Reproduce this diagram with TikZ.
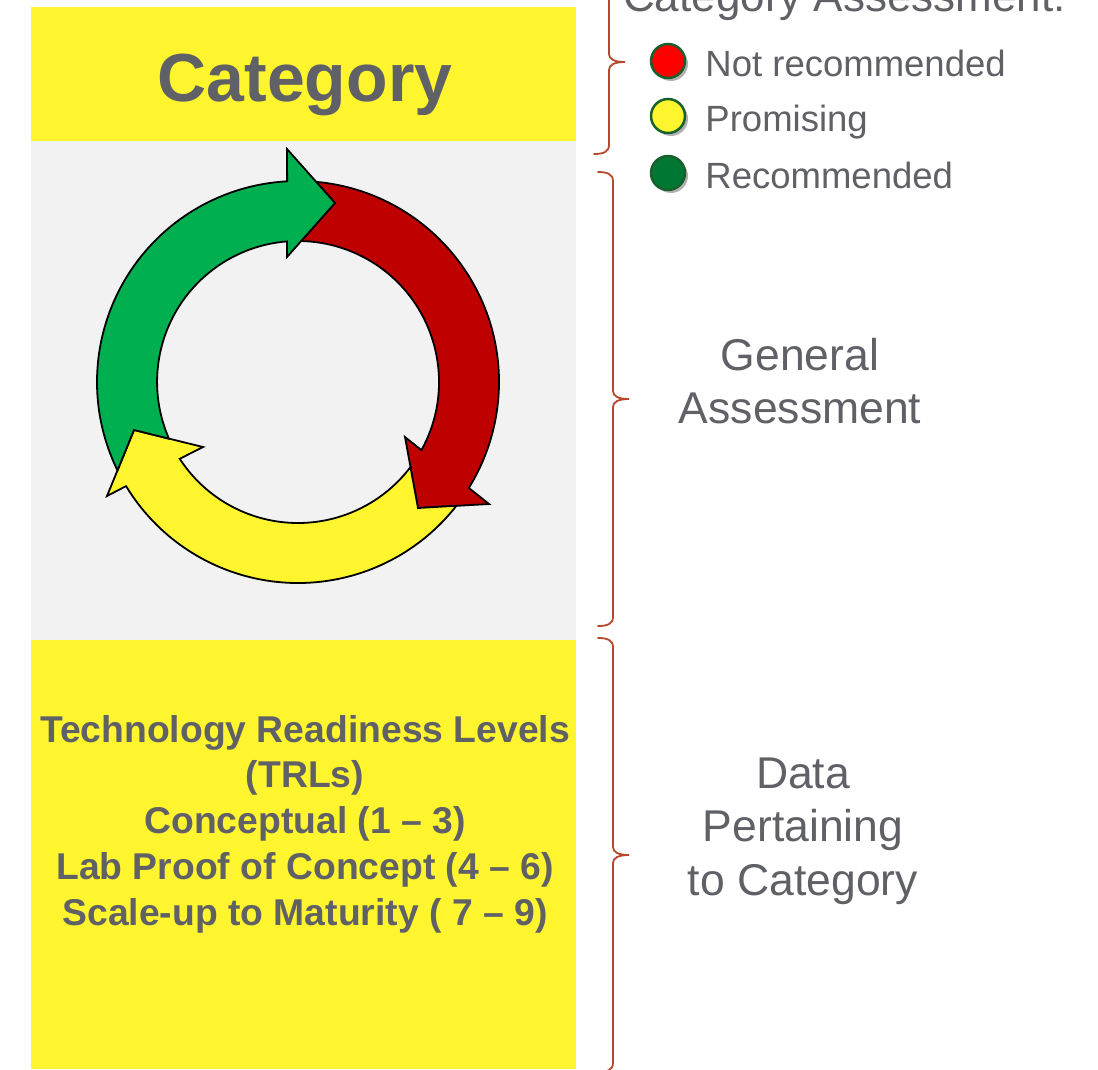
\documentclass[tikz,border=0pt]{standalone}
\usepackage{fontspec}
\setmainfont{Liberation Sans}
\usetikzlibrary{shadows, positioning}

\definecolor{textgray}{RGB}{96,97,102}
\definecolor{boxyellow}{RGB}{255,245,46}
\definecolor{panelgray}{RGB}{242,242,242}
\definecolor{cycgreen}{RGB}{0,176,80}
\definecolor{cycred}{RGB}{190,0,0}
\definecolor{cycyellow}{RGB}{255,245,46}
\definecolor{bracered}{RGB}{184,72,44}
\definecolor{dotred}{RGB}{255,0,0}
\definecolor{dotyellow}{RGB}{255,245,46}
\definecolor{dotgreen}{RGB}{0,120,52}
\definecolor{dotrim}{RGB}{24,96,44}

% curly brace: x of the long stroke, top y, bottom y
\newcommand{\sidebrace}[3]{%
    \pgfmathsetmacro{\bracemid}{(#2+#3)/2}
    \draw[side brace] (#1-15,#2) .. controls (#1-6,#2) and (#1,#2+2) .. (#1,#2+9)
        -- (#1,\bracemid-8) .. controls (#1,\bracemid-3) and (#1+5,\bracemid) .. (#1+16,\bracemid)
        .. controls (#1+5,\bracemid) and (#1,\bracemid+3) .. (#1,\bracemid+8)
        -- (#1,#3-9) .. controls (#1,#3-2) and (#1-6,#3) .. (#1-15,#3);}

\begin{document}
\begin{tikzpicture}[x=1pt, y=-1pt,
    cyc arrow/.style={draw=black, line width=1.8pt, line join=miter},
    leg dot/.style={circle, draw=dotrim, line width=2.5pt, minimum size=34pt, inner sep=0pt,
        drop shadow={shadow xshift=3pt, shadow yshift=-3pt, opacity=0.3, fill=black}},
    leg text/.style={font=\fontsize{36.5}{44}\selectfont, text=textgray, inner sep=0pt,
        text height=30pt, text depth=0pt, anchor=west},
    side brace/.style={draw=bracered, line width=1.8pt, line cap=round},
    side label/.style={font=\fontsize{44.5}{53.5}\selectfont, text=textgray, align=center}]

    \useasboundingbox (0,0) rectangle (1098,1069);
    \fill[white] (0,0) rectangle (1098,1069);

    % Column panels
    \fill[boxyellow] (31,7) rectangle (576,141);
    \fill[panelgray] (31,141) rectangle (576,640);
    \fill[boxyellow] (31,640) rectangle (576,1069);

    \node[font=\bfseries\fontsize{68}{80}\selectfont, text=textgray, anchor=base] (title) at (305,101) {Category};

    % Cycle of three arrows
    \begin{scope}[shift={(298,382)}]
        \draw[cyc arrow, fill=cycred] (-84.8:201) arc[start angle=-84.8, end angle=31.8, radius=201]
            -- (191,122) -- (120,126) -- (107,55) -- (28.9:141)
            arc[start angle=28.9, end angle=-88.7, radius=141] -- (37,-179) -- cycle;
        \draw[cyc arrow, fill=cycyellow] (38:201) arc[start angle=38, end angle=148.8, radius=201]
            -- (-191,114) -- (-164,48) -- (-95,65) -- (147:141)
            arc[start angle=147, end angle=37.1, radius=141] -- (120,126) -- cycle;
        \draw[cyc arrow, fill=cycgreen] (-206.1:201) arc[start angle=-206.1, end angle=-93.1, radius=201]
            -- (-11,-233) -- (37,-179) -- (-11,-125) -- (-11,-140.6)
            arc[start angle=-94.5, end angle=-203.7, radius=141] -- (-164,48) -- cycle;
    \end{scope}

    % Legend
    \node[anchor=base west, font=\fontsize{44}{52}\selectfont, text=textgray, inner sep=0pt] (legtitle) at (623,11) {Category Assessment:};
    \node[leg dot, fill=dotred] (notrec) at (668,61) {};
    \node[leg dot, fill=dotyellow] (promis) at (668,116) {};
    \node[leg dot, fill=dotgreen] (recom) at (668,173) {};
    \node[leg text, right=19pt of notrec] (notrectext) {Not recommended};
    \node[leg text, right=19pt of promis] (promistext) {Promising};
    \node[leg text, right=19pt of recom] (recomtext) {Recommended};

    % Braces
    \sidebrace{609}{-30}{154}
    \sidebrace{613}{172}{626}
    \sidebrace{613}{638}{1072}

    \node[side label] (general) at (800,381) {General\\Assessment};
    \node[side label] (pertain) at (803,831) {Data\\Pertaining\\to Category};

    \node[font=\bfseries\fontsize{37.3}{45.75}\selectfont, text=textgray, align=center] (trl) at (305,824)
        {Technology Readiness Levels\\(TRLs)\\Conceptual (1 – 3)\\Lab Proof of Concept (4 – 6)\\Scale-up to Maturity ( 7 – 9)};

\end{tikzpicture}
\end{document}
